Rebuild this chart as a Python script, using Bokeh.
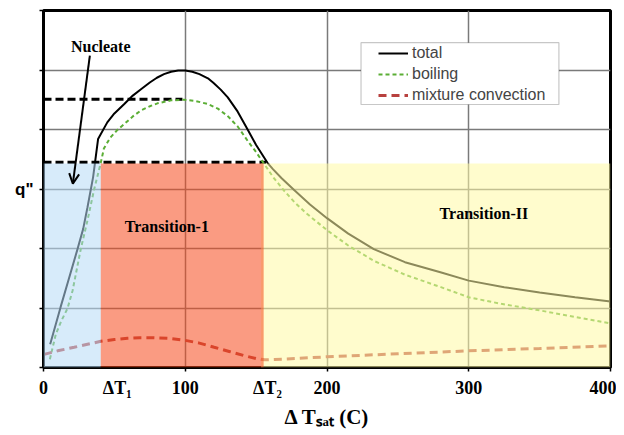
from bokeh.plotting import figure
from bokeh.models import (Range1d, FixedTicker, BoxAnnotation, Label, Arrow,
                          OpenHead, Legend, LegendItem)
from bokeh.embed import file_html
from bokeh.resources import INLINE

# ---- data ----
total_x = [4.7, 12, 18, 24, 28, 31, 35, 38.5, 45, 50, 57, 63, 69, 75, 80, 85, 90,
           95, 100, 105, 110, 116, 120, 125, 130, 137, 144, 150, 158, 162, 168,
           177, 188, 200, 215, 233, 255, 280, 300, 325, 350, 375, 400]
total_y = [0.39, 1.01, 1.50, 1.99, 2.33, 2.69, 3.20, 3.84, 4.12, 4.27, 4.43, 4.57,
           4.68, 4.79, 4.87, 4.93, 4.97, 4.99, 4.99, 4.97, 4.93, 4.86, 4.78, 4.67,
           4.54, 4.30, 4.00, 3.74, 3.44, 3.33, 3.18, 2.98, 2.74, 2.51, 2.25, 1.99,
           1.77, 1.60, 1.46, 1.35, 1.26, 1.18, 1.11]

boil_x = [4.5, 8.7, 12.5, 16.9, 20.5, 26.3, 31, 35.7, 40.4, 42.6, 47, 52, 56.9,
          63, 68.7, 75, 80.4, 90, 99.2, 107, 115.7, 123, 129.8, 137, 144, 150,
          155.7, 162, 169.8, 177, 185, 200.4, 215, 233.3, 255, 280.4, 300, 323,
          350, 375, 400]
boil_y = [0.14, 0.56, 0.78, 0.99, 1.29, 1.99, 2.47, 2.99, 3.44, 3.68, 3.86, 3.99,
          4.09, 4.22, 4.32, 4.39, 4.44, 4.49, 4.50, 4.48, 4.43, 4.35, 4.23, 4.05,
          3.81, 3.62, 3.42, 3.20, 2.97, 2.78, 2.60, 2.30, 2.05, 1.79, 1.56, 1.35,
          1.18, 1.07, 0.96, 0.85, 0.74]

mix_x = [0.4, 10, 21.6, 31, 40.4, 50, 59.3, 68, 78, 89, 99.2, 110, 120.4, 131,
         141.6, 150, 156, 163, 170, 200, 250, 300, 350, 400]
mix_y = [0.22, 0.28, 0.34, 0.39, 0.44, 0.47, 0.49, 0.50, 0.50, 0.49, 0.46, 0.41,
         0.34, 0.27, 0.20, 0.15, 0.13, 0.135, 0.14, 0.18, 0.23, 0.28, 0.32, 0.365]

chf_levels = [4.51, 3.45]      # dashed reference levels
chf_x_end = [98, 157]

region_edges = [0, 40.4, 153.5, 155.3, 400]   # nucleate | transition-1 | transition-II
region_top = 3.43

grid_x = [0, 100, 200, 300, 400]
grid_y = [0, 1, 2, 3, 4, 5, 6]
xtick_pos = [0, 52, 100, 158, 200, 300, 400]
xtick_labels = ["0", "ΔT₁", "100", "ΔT₂", "200", "300", "400"]
ytick_labels = {3: 'q"'}
x_title = "Δ Tₛₐₜ (C)"

SERIF = "Liberation Serif"
SANS = "Liberation Sans"

p = figure(frame_width=567, frame_height=357,
           x_range=Range1d(0, 400), y_range=Range1d(0, 6),
           output_backend="svg", toolbar_location=None,
           min_border_left=43, min_border_right=6,
           min_border_top=10, min_border_bottom=64)
p.background_fill_color = "white"
p.border_fill_color = "white"
p.outline_line_color = "black"
p.outline_line_width = 3

# grid
p.xgrid.ticker = FixedTicker(ticks=grid_x)
p.ygrid.ticker = FixedTicker(ticks=grid_y)
for g in (p.xgrid, p.ygrid):
    g.grid_line_color = "#7a7a7a"
    g.grid_line_width = 1.5

# x axis
xa = p.xaxis[0]
xa.ticker = FixedTicker(ticks=xtick_pos, minor_ticks=grid_x)
xa.major_label_overrides = {k: v for k, v in zip(xtick_pos, xtick_labels)}
xa.major_tick_out = 0
xa.major_tick_in = 0
xa.minor_tick_out = 4
xa.minor_tick_in = 0
xa.minor_tick_line_color = "black"
xa.minor_tick_line_width = 1.5
xa.axis_line_width = 3
xa.axis_line_color = "black"
xa.major_label_text_font = SERIF
xa.major_label_text_font_style = "bold"
xa.major_label_text_font_size = "18px"
xa.major_label_text_color = "black"
xa.major_label_standoff = 6
xa.axis_label = x_title
xa.axis_label_text_font = SERIF
xa.axis_label_text_font_style = "bold"
xa.axis_label_text_font_size = "21px"
xa.axis_label_text_color = "black"
xa.axis_label_standoff = 4

# y axis
ya = p.yaxis[0]
ya.ticker = FixedTicker(ticks=grid_y)
ya.major_label_overrides = {t: ytick_labels.get(t, "") for t in grid_y}
ya.major_tick_out = 4
ya.major_tick_in = 0
ya.major_tick_line_width = 1.5
ya.minor_tick_line_color = None
ya.axis_line_width = 3
ya.axis_line_color = "black"
ya.major_label_text_font = SANS
ya.major_label_text_font_style = "bold"
ya.major_label_text_font_size = "17px"
ya.major_label_text_color = "black"
ya.major_label_standoff = 6

# curves
p.segment(x0=[0] * len(chf_levels), y0=chf_levels, x1=chf_x_end, y1=chf_levels,
          line_color="black", line_width=3, line_dash="8 4")
r_total = p.line(total_x, total_y, line_color="black", line_width=2)
r_boil = p.line(boil_x, boil_y, line_color="#5BAE35", line_width=2, line_dash="4 3")
r_mix = p.line(mix_x, mix_y, line_color="#B8413F", line_width=3, line_dash="8 5")

# shaded regions (drawn on top, semi-transparent)
p.add_layout(BoxAnnotation(left=region_edges[0], right=region_edges[1], bottom=0,
                           top=region_top, fill_color="#B6DBF6", fill_alpha=0.55,
                           line_color=None))
p.add_layout(BoxAnnotation(left=region_edges[2], right=region_edges[4], bottom=0,
                           top=region_top, fill_color="#FFFAA4", fill_alpha=0.55,
                           line_color=None))
p.add_layout(BoxAnnotation(left=region_edges[1], right=region_edges[3], bottom=0,
                           top=region_top, fill_color="#F6491C", fill_alpha=0.55,
                           line_color=None))

# texts
def lab(x, y, t, size="16px", font=SERIF, align="center", baseline="middle"):
    p.add_layout(Label(x=x, y=y, text=t, text_font=font, text_font_style="bold",
                       text_font_size=size, text_color="black",
                       text_align=align, text_baseline=baseline))

lab(40.4, 5.40, "Nucleate")
lab(87, 2.37, "Transition-1")
lab(310.7, 2.59, "Transition-II")

p.add_layout(Arrow(end=OpenHead(size=10, line_width=2, line_color="black"),
                   x_start=32.7, y_start=5.24, x_end=20.7, y_end=3.09,
                   line_width=2, line_color="black"))

# legend frame + legend
p.add_layout(BoxAnnotation(left=224, right=363.6, bottom=4.42, top=5.46,
                           fill_color="white", fill_alpha=1,
                           line_color="#444444", line_width=1.2))
legend = Legend(items=[LegendItem(label="total", renderers=[r_total]),
                       LegendItem(label="boiling", renderers=[r_boil]),
                       LegendItem(label="mixture convection", renderers=[r_mix])],
                location=(335, 262), padding=0, spacing=1, margin=0,
                glyph_width=30, glyph_height=20, label_height=20,
                label_standoff=4, label_text_font=SANS,
                label_text_font_size="16px", border_line_alpha=0,
                background_fill_alpha=0)
p.add_layout(legend)

open("out.html", "w").write(file_html(p, INLINE))
